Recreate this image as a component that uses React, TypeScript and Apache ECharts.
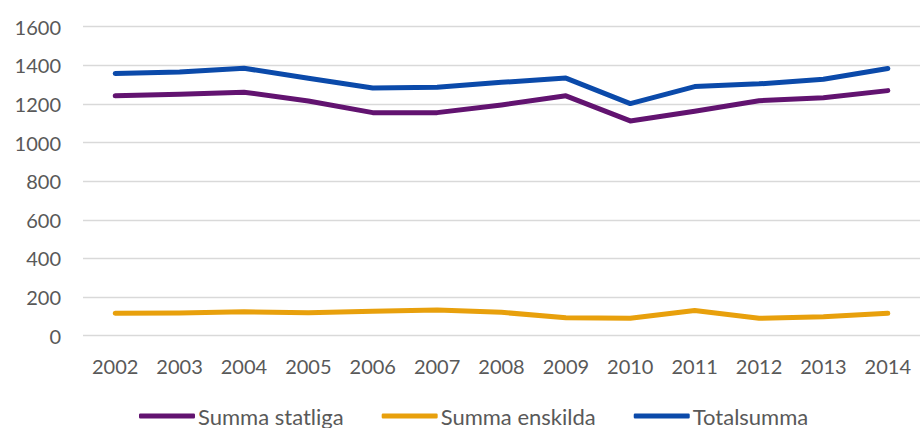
import React, { useEffect, useRef } from "react";
import * as echarts from "echarts";

const years = ["2002","2003","2004","2005","2006","2007","2008","2009","2010","2011","2012","2013","2014"];
const statliga = [1242, 1250, 1261, 1215, 1155, 1155, 1195, 1242, 1112, 1162, 1217, 1232, 1269];
const enskilda = [116, 118, 124, 119, 127, 133, 121, 93, 90, 131, 90, 98, 116];
const totalsumma = [1358, 1366, 1385, 1333, 1283, 1287, 1312, 1334, 1202, 1290, 1304, 1328, 1384];
const seriesNames = ["Summa statliga", "Summa enskilda", "Totalsumma"];
const colors = ["#621370", "#E8A00C", "#0B4AAA"];

export default function App() {
  const ref = useRef<HTMLDivElement>(null);
  useEffect(() => {
    const chart = echarts.init(ref.current!, null, { renderer: "svg" });
    const font = "Lato";
    const data = [statliga, enskilda, totalsumma];
    chart.setOption({
      animation: false,
      color: colors,
      grid: { left: 83, right: -7, top: 26.7, bottom: 92.3, containLabel: false },
      legend: {
        data: seriesNames,
        left: 139,
        top: 405,
        padding: 0,
        itemWidth: 56,
        itemHeight: 5,
        itemGap: 38,
        icon: "roundRect",
        textStyle: { fontFamily: font, fontSize: 22, color: "#595959", padding: [0, 0, 0, -2] },
      },
      xAxis: {
        type: "category",
        data: years,
        boundaryGap: true,
        axisLine: { show: false },
        axisTick: { show: false },
        axisLabel: { margin: 20, fontFamily: font, fontSize: 20, color: "#595959" },
      },
      yAxis: {
        type: "value",
        min: 0,
        max: 1600,
        interval: 200,
        axisLine: { show: false },
        axisTick: { show: false },
        axisLabel: {
          margin: 22,
          fontFamily: font,
          fontSize: 20,
          color: "#595959",
          formatter: (v: number) => String(v),
        },
        splitLine: { lineStyle: { color: "#D9D9D9", width: 1.3 } },
      },
      series: seriesNames.map((name, i) => ({
        name,
        type: "line",
        data: data[i],
        symbol: "none",
        lineStyle: { width: 5, color: colors[i], cap: "round", join: "round" },
      })),
    });
    return () => chart.dispose();
  }, []);
  return (
    <div
      ref={ref}
      style={{ position: "fixed", left: 0, top: 0, width: 920, height: 428, background: "#fff" }}
    />
  );
}
